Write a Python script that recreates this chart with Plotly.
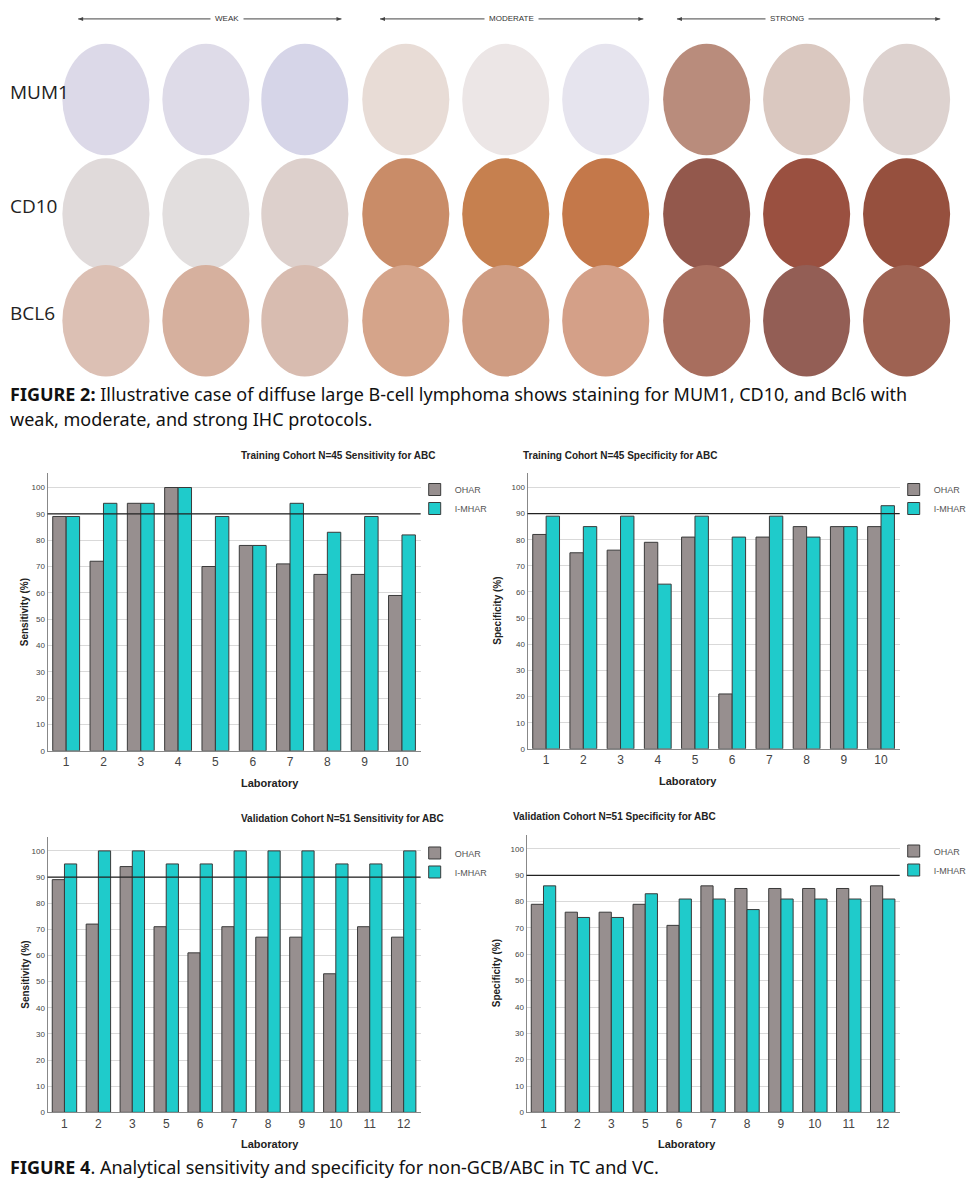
import plotly.graph_objects as go

tc_labs = ["1","2","3","4","5","6","7","8","9","10"]
tc_sens_ohar = [89,72,94,100,70,78,71,67,67,59]
tc_sens_imhar = [89,94,94,100,89,78,94,83,89,82]
tc_spec_ohar = [82,75,76,79,81,21,81,85,85,85]
tc_spec_imhar = [89,85,89,63,89,81,89,81,85,93]
vc_labs = ["1","2","3","5","6","7","8","9","10","11","12"]
vc_sens_ohar = [89,72,94,71,61,71,67,67,53,71,67]
vc_sens_imhar = [95,100,100,95,95,100,100,100,95,95,100]
vc_spec_ohar = [79,76,76,79,71,86,85,85,85,85,86]
vc_spec_imhar = [86,74,74,83,81,81,77,81,81,81,81]
y_ticks = [0,10,20,30,40,50,60,70,80,90,100]

GREY = "#978f8f"
TEAL = "#1fcbcb"
W, H = 972, 1200
def px(x): return x / W
def py(y): return 1 - y / H

fig = go.Figure()
panels = [
    ("Training Cohort N=45 Sensitivity for ABC", "Sensitivity (%)", tc_labs, tc_sens_ohar, tc_sens_imhar, (48, 425), (475, 754)),
    ("Training Cohort N=45 Specificity for ABC", "Specificity (%)", tc_labs, tc_spec_ohar, tc_spec_imhar, (533, 909), (475, 752)),
    ("Validation Cohort N=51 Sensitivity for ABC", "Sensitivity (%)", vc_labs, vc_sens_ohar, vc_sens_imhar, (48, 425), (840, 1117)),
    ("Validation Cohort N=51 Specificity for ABC", "Specificity (%)", vc_labs, vc_spec_ohar, vc_spec_imhar, (532, 909), (838, 1117)),
]
shapes, annos = [], []
def ann(**k):
    k.setdefault("xref", "paper"); k.setdefault("yref", "paper")
    k.setdefault("showarrow", False); k.setdefault("yanchor", "middle")
    annos.append(k)

for i, (title, ytitle, labs, a, b, (x0, x1), (yt, yb)) in enumerate(panels):
    n = "" if i == 0 else str(i + 1)
    lg = "legend" if i == 0 else "legend" + str(i + 1)
    for name, vals, col in (("OHAR", a, GREY), ("I-MHAR", b, TEAL)):
        fig.add_trace(go.Bar(x=labs, y=vals, name=name, marker=dict(color=col, line=dict(color="#3a3a3a", width=1)),
                             xaxis="x" + n, yaxis="y" + n, legend=lg))
    fig.update_layout(**{
        "xaxis" + n: dict(domain=[px(x0), px(x1)], anchor="y" + n, type="category", showgrid=False,
                          showline=True, linecolor="#888", tickfont=dict(size=12, color="#444"), ticks=""),
        "yaxis" + n: dict(domain=[py(yb), py(yt)], anchor="x" + n, range=[0, 105.5], tickvals=y_ticks,
                          showgrid=True, gridcolor="#d9d9d9", showline=True, linecolor="#888", zeroline=False,
                          tickfont=dict(size=8, color="#444"), ticks=""),
        lg: dict(x=px(x1 - 6), y=py(yt + 2), xanchor="left", yanchor="top", bgcolor="rgba(0,0,0,0)",
                 font=dict(size=9, color="#555"), itemwidth=30, tracegroupgap=0),
    })
    shapes.append(dict(type="line", xref=f"x{n} domain", yref="y" + n, x0=0, x1=1, y0=90, y1=90,
                       line=dict(color="#222", width=1.2)))
    ann(text="<b>" + title + "</b>", x=px((x0 + x1) / 2 + 5), y=py(yt - 18), font=dict(size=10, color="#222"))
    ann(text="<b>Laboratory</b>", x=px((x0 + x1) / 2 + 5), y=py(yb + 32), font=dict(size=11, color="#222"))
    ann(text="<b>" + ytitle + "</b>", x=px(x0 - 30), y=py((yt + yb) / 2), textangle=-90,
        font=dict(size=10, color="#222"))

# Figure 2 illustration (tissue cores approximated as ellipses)
headers = [("WEAK", 79, 345), ("MODERATE", 384, 650), ("STRONG", 684, 950)]
for t, a0, a1 in headers:
    mid = (a0 + a1) / 2
    ann(text=t, x=px(mid), y=py(19), font=dict(size=8, color="#333"), bgcolor="white", borderpad=4)
    shapes.append(dict(type="line", xref="paper", yref="paper", x0=px(a0), x1=px(a1), y0=py(19), y1=py(19),
                       line=dict(color="#444", width=1), layer="below"))
    for xe, d in ((a0, 1), (a1, -1)):
        shapes.append(dict(type="path", xref="paper", yref="paper", layer="below",
                           path=f"M {px(xe)},{py(19)} L {px(xe + 5 * d)},{py(17)} L {px(xe + 5 * d)},{py(21)} Z",
                           fillcolor="#444", line=dict(width=0)))
rows = [("MUM1", 100), ("CD10", 215), ("BCL6", 322)]
cols_x = [107, 208, 308, 410, 511, 612, 714, 815, 916]
core_colors = [
    ["#dcd9e8", "#dedbe8", "#d6d5e8", "#e8dcd6", "#ece6e6", "#e6e4ee", "#b98c7c", "#dac8c0", "#ddd2cf"],
    ["#e0dada", "#e2dede", "#ddd0cc", "#c98c68", "#c6804f", "#c4784a", "#93584c", "#9a5040", "#96503e"],
    ["#dcc0b4", "#d6b09e", "#d8bcb0", "#d5a48a", "#cf9c82", "#d4a088", "#a86e5e", "#935e55", "#9e6252"],
]
for ri, (lab, cy) in enumerate(rows):
    ann(text=lab, x=px(8), y=py(cy - 8), xanchor="left", font=dict(size=19, color="#222", family="Open Sans"))
    for ci, cx in enumerate(cols_x):
        shapes.append(dict(type="circle", xref="paper", yref="paper", x0=px(cx - 44), x1=px(cx + 44),
                           y0=py(cy + 56), y1=py(cy - 56), fillcolor=core_colors[ri][ci], line=dict(width=0)))

cap_font = dict(size=18, color="#111", family="Noto Sans")
ann(text="<b>FIGURE 2:</b> Illustrative case of diffuse large B-cell lymphoma shows staining for MUM1, CD10, and Bcl6 with",
    x=px(8), y=py(396), xanchor="left", font=cap_font)
ann(text="weak, moderate, and strong IHC protocols.", x=px(8), y=py(421), xanchor="left", font=cap_font)
ann(text="<b>FIGURE 4</b>. Analytical sensitivity and specificity for non-GCB/ABC in TC and VC.",
    x=px(8), y=py(1172), xanchor="left", font=cap_font)

fig.update_layout(width=W, height=H, margin=dict(l=0, r=0, t=0, b=0), paper_bgcolor="white",
                  plot_bgcolor="white", barmode="group", bargap=0.28, bargroupgap=0,
                  font=dict(family="Liberation Sans"), shapes=shapes, annotations=annos)
fig.write_html("out.html", config={"displayModeBar": False},
               post_script="document.body.style.margin='0';document.body.style.overflow='hidden';")
